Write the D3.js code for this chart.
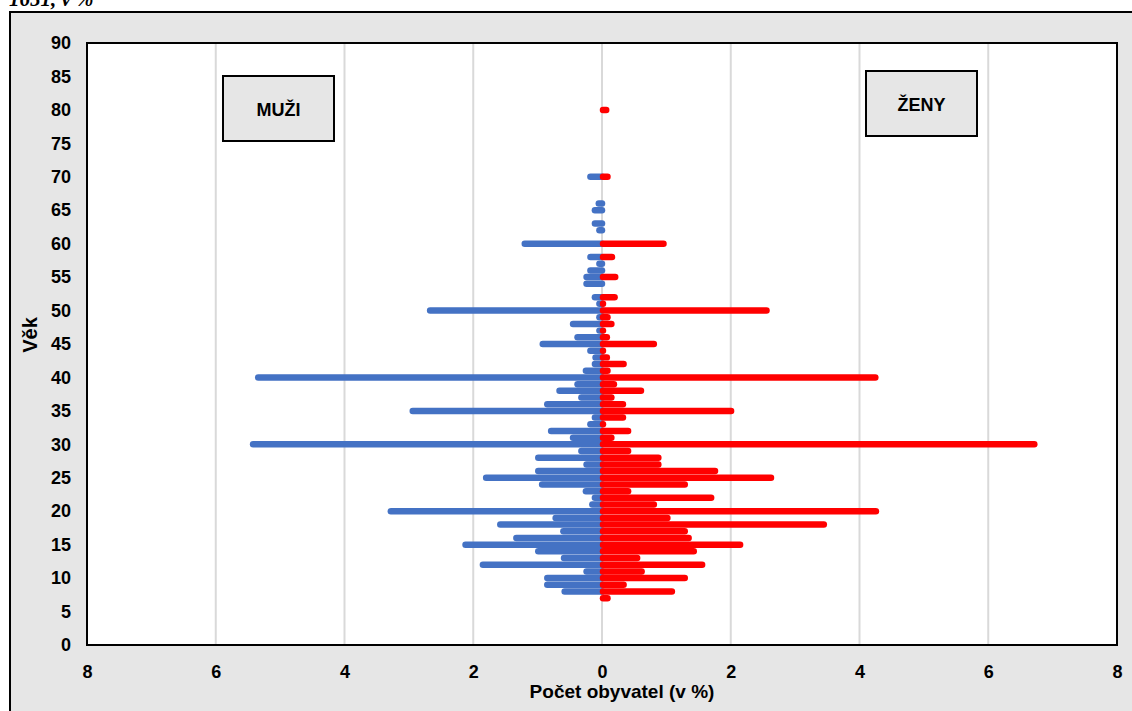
<!DOCTYPE html>
<html>
<head>
<meta charset="utf-8">
<script src="https://cdn.jsdelivr.net/npm/d3@7"></script>
<style>
  body { margin: 0; background: #fff; }
  text { font-family: "Liberation Sans", Arial, sans-serif; }
</style>
</head>
<body>
<svg width="1132" height="711"></svg>
<script>
// age (years) and share of population (%) for men and women, 1651
const ages = [7, 8, 9, 10, 11, 12, 13, 14, 15, 16, 17, 18, 19, 20, 21, 22, 23, 24, 25, 26,
  27, 28, 29, 30, 31, 32, 33, 34, 35, 36, 37, 38, 39, 40, 41, 42, 43, 44, 45, 46,
  47, 48, 49, 50, 51, 52, 53, 54, 55, 56, 57, 58, 59, 60, 61, 62, 63, 64, 65, 66,
  67, 68, 69, 70, 80]
const men = [null, 0.58, 0.85, 0.85, 0.24, 1.85, 0.59, 0.99, 2.12, 1.33, 0.60, 1.58, 0.72, 3.28, 0.15, 0.11, 0.25, 0.93, 1.80, 0.99,
  0.24, 0.99, 0.32, 5.42, 0.45, 0.79, 0.18, 0.11, 2.94, 0.85, 0.32, 0.66, 0.38, 5.34, 0.25, 0.11, 0.10, 0.18, 0.92, 0.38,
  0.04, 0.45, 0.04, 2.67, 0.04, 0.11, null, 0.24, 0.24, 0.18, 0.04, 0.18, null, 1.20, null, 0.04, 0.11, null, 0.11, 0.05,
  null, null, null, 0.18, null]
const women = [0.07, 1.07, 0.32, 1.27, 0.60, 1.54, 0.53, 1.41, 2.13, 1.33, 1.27, 3.43, 1.00, 4.24, 0.79, 1.68, 0.39, 1.27, 2.61, 1.74,
  0.86, 0.86, 0.39, 6.70, 0.13, 0.39, 0, 0.31, 1.99, 0.31, 0.13, 0.59, 0.17, 4.23, 0.07, 0.32, 0.06, 0, 0.79, 0.06,
  0, 0.13, 0.07, 2.54, 0, 0.18, null, null, 0.19, null, null, 0.14, null, 0.94, null, null, null, null, null, null,
  null, null, null, 0.07, 0.05]

const xTicks = [-8, -6, -4, -2, 0, 2, 4, 6, 8]
const yTicks = d3.range(0, 91, 5)

const plot = { left: 87, right: 1117, top: 43, bottom: 645 }

const svg = d3.select('svg')

// title, cut off at the top
svg.append('text')
  .text('1651, v %')
  .attr('x', 9)
  .attr('y', 6)
  .style('font-family', '"Liberation Serif", "Times New Roman", serif')
  .style('font-weight', 'bold')
  .style('font-style', 'italic')
  .style('font-size', '21px')

// chart area
svg.append('rect')
  .attr('x', 10).attr('y', 12)
  .attr('width', 1125).attr('height', 710)
  .attr('fill', '#e6e6e6')
  .attr('stroke', '#000')
  .attr('stroke-width', 2)

svg.append('rect')
  .attr('x', plot.left).attr('y', plot.top)
  .attr('width', plot.right - plot.left).attr('height', plot.bottom - plot.top)
  .attr('fill', '#fff')

const xScale = d3.scaleLinear()
  .domain([-8, 8])
  .range([plot.left, plot.right])

const yScale = d3.scaleLinear()
  .domain([0, 90])
  .range([plot.bottom, plot.top])

// vertical gridlines
svg.append('g')
  .selectAll('line')
  .data(xTicks.slice(1, -1))
  .enter()
  .append('line')
  .attr('x1', d => xScale(d))
  .attr('x2', d => xScale(d))
  .attr('y1', plot.top)
  .attr('y2', plot.bottom)
  .attr('stroke', '#d9d9d9')
  .attr('stroke-width', 2)

const barWidth = yScale(0) - yScale(1) - 0.2
const rows = ages.map((a, i) => ({ age: a, m: men[i], w: women[i] }))

// men to the left
svg.append('g')
  .selectAll('line')
  .data(rows.filter(d => d.m !== null))
  .enter()
  .append('line')
  .attr('x1', xScale(0))
  .attr('x2', d => xScale(-d.m))
  .attr('y1', d => yScale(d.age))
  .attr('y2', d => yScale(d.age))
  .attr('stroke', '#4472c4')
  .attr('stroke-width', barWidth)
  .attr('stroke-linecap', 'round')

// women to the right
svg.append('g')
  .selectAll('line')
  .data(rows.filter(d => d.w !== null))
  .enter()
  .append('line')
  .attr('x1', xScale(0) + 1)
  .attr('x2', d => xScale(d.w) + 1)
  .attr('y1', d => yScale(d.age))
  .attr('y2', d => yScale(d.age))
  .attr('stroke', '#ff0000')
  .attr('stroke-width', barWidth)
  .attr('stroke-linecap', 'round')

svg.append('rect')
  .attr('x', plot.left).attr('y', plot.top)
  .attr('width', plot.right - plot.left).attr('height', plot.bottom - plot.top)
  .attr('fill', 'none')
  .attr('stroke', '#000')
  .attr('stroke-width', 2)

const xAxis = d3.axisBottom(xScale)
  .tickValues(xTicks)
  .tickFormat(d => Math.abs(d))
  .tickSize(0)
  .tickPadding(20)

const gx = svg.append('g')
  .attr('transform', `translate(0, ${plot.bottom})`)
  .call(xAxis)
gx.select('.domain').remove()
gx.selectAll('text')
  .style('font-size', '18px')
  .style('font-weight', 'bold')
  .attr('fill', '#000')

const yAxis = d3.axisLeft(yScale)
  .tickValues(yTicks)
  .tickSize(0)
  .tickPadding(16)

const gy = svg.append('g')
  .attr('transform', `translate(${plot.left}, 0)`)
  .call(yAxis)
gy.select('.domain').remove()
gy.selectAll('text')
  .style('font-size', '18px')
  .style('font-weight', 'bold')
  .attr('fill', '#000')

svg.append('text')
  .text('Počet obyvatel (v %)')
  .attr('x', 622)
  .attr('y', 698)
  .attr('text-anchor', 'middle')
  .style('font-size', '19px')
  .style('font-weight', 'bold')

svg.append('text')
  .text('Věk')
  .attr('transform', 'translate(37, 335) rotate(-90)')
  .attr('text-anchor', 'middle')
  .style('font-size', '20px')
  .style('font-weight', 'bold')

// sex labels
const boxes = [
  { label: 'MUŽI', x: 223, y: 76 },
  { label: 'ŽENY', x: 866, y: 71 }
]
const box = svg.append('g')
  .selectAll('g')
  .data(boxes)
  .enter()
  .append('g')
  .attr('transform', d => `translate(${d.x}, ${d.y})`)
box.append('rect')
  .attr('width', 111).attr('height', 65)
  .attr('fill', '#e6e6e6')
  .attr('stroke', '#000')
  .attr('stroke-width', 2)
box.append('text')
  .text(d => d.label)
  .attr('x', 55.5)
  .attr('y', 40)
  .attr('text-anchor', 'middle')
  .style('font-size', '18px')
  .style('font-weight', 'bold')
</script>
</body>
</html>
